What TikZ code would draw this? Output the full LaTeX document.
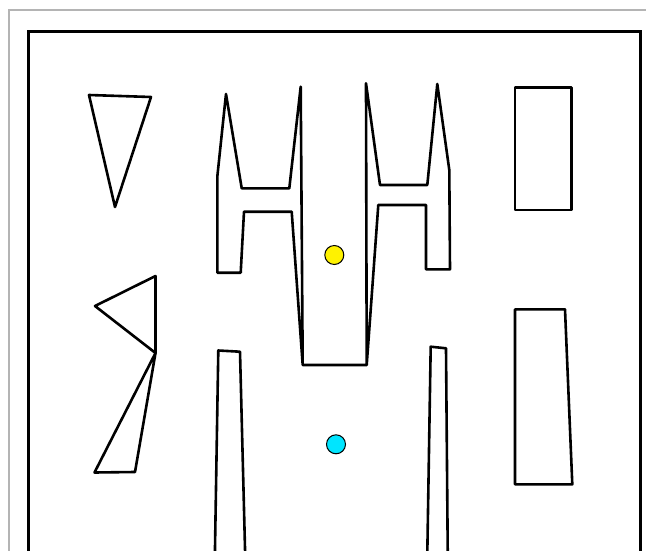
\documentclass[tikz,border=0pt]{standalone}
\usepackage{tikz}
\usepackage{xcolor}
\usetikzlibrary{positioning}
\definecolor{ink}{HTML}{000000}
\definecolor{edgegray}{HTML}{B4B4B4}
\definecolor{startyel}{HTML}{FFF200}
\definecolor{goalcyan}{HTML}{00E5FF}
\tikzset{
  obstacle/.style={draw=ink,line width=2.6pt,line join=round,fill=white},
  wallframe/.style={draw=ink,line width=3pt},
  pageedge/.style={draw=edgegray,line width=1.5pt},
  startdot/.style={circle,draw=ink,fill=startyel,line width=1pt,
                   minimum size=19pt,inner sep=0pt},
  goaldot/.style={circle,draw=ink,fill=goalcyan,line width=1pt,
                  minimum size=19pt,inner sep=0pt}
}
\begin{document}
\begin{tikzpicture}[x=1pt,y=-1pt]
  \useasboundingbox (0,0) rectangle (646,551);
  \clip (0,0) rectangle (646,551);
  \fill[white] (0,0) rectangle (646,551);

  % page edge and workspace walls
  \draw[pageedge] (9,560) -- (9,10) -- (660,10);
  \draw[wallframe] (28.5,560) -- (28.5,32) -- (640,32) -- (640,560);

  % left obstacles
  \draw[obstacle] (89,95) -- (151,97) -- (115,207) -- cycle;
  \draw[obstacle] (95,306) -- (155.5,276) -- (155.5,353) -- cycle;
  \draw[obstacle] (155.5,353) -- (135,472) -- (94.5,472.5) -- cycle;

  % twin H block
  \draw[obstacle] (217.3,272.7) -- (217.3,176.7) -- (226,94) -- (241.7,188.3)
    -- (289.3,188.3) -- (300.7,86.7) -- (302.7,365) -- (366.7,365)
    -- (366,83.3) -- (380,185) -- (427.3,185) -- (437.3,84) -- (449.3,170)
    -- (450,269.3) -- (426,269.3) -- (426,205) -- (378.3,205) -- (366.7,365)
    -- (302.7,365) -- (291.7,211.7) -- (244,211.7) -- (240.7,272.7) -- cycle;

  % long bars
  \draw[obstacle] (214.8,560) -- (218.3,350.5) -- (240,351.7) -- (245.3,560);
  \draw[obstacle] (427.2,560) -- (430.7,346.7) -- (446,348.3) -- (447.8,560);

  % right obstacles
  \draw[obstacle] (515,87.3) rectangle (571.7,210);
  \draw[obstacle] (515,309.3) -- (565,309.3) -- (572.3,484.3) -- (515,484.3) -- cycle;

  \node[startdot] (start) at (334.3,255) {};
  \node[goaldot] (goal) at (336,444.3) {};
\end{tikzpicture}
\end{document}
